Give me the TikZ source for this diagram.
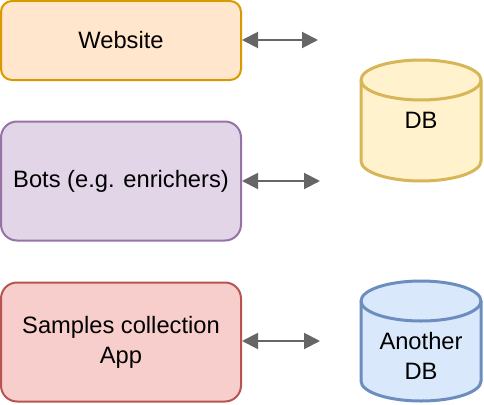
\documentclass[tikz,border=0pt]{standalone}
\usepackage{fontspec}
\setmainfont{Liberation Sans}
\usetikzlibrary{arrows.meta}
\definecolor{webfill}{HTML}{FFE6CC}\definecolor{webdraw}{HTML}{D79B00}
\definecolor{botfill}{HTML}{E1D5E7}\definecolor{botdraw}{HTML}{9673A6}
\definecolor{appfill}{HTML}{F8CECC}\definecolor{appdraw}{HTML}{B85450}
\definecolor{dbfill}{HTML}{FFF2CC}\definecolor{dbdraw}{HTML}{D6B656}
\definecolor{adbfill}{HTML}{DAE8FC}\definecolor{adbdraw}{HTML}{6C8EBF}
\definecolor{arrowgray}{HTML}{666666}
\tikzset{
  lbl/.style={font=\fontsize{23.7}{30}\selectfont, align=center, inner sep=0pt},
  appbox/.style={draw, line width=2pt, inner sep=0pt, minimum width=240pt, lbl},
  cyl/.style={line width=3pt},
  conn/.style={draw=arrowgray, line width=2pt, {Triangle[length=16pt,width=16pt]}-{Triangle[length=16pt,width=16pt]}}
}
\begin{document}
\begin{tikzpicture}[x=1pt,y=-1pt]
\useasboundingbox (0,0) rectangle (484,404);
% boxes
\node[appbox, fill=webfill, draw=webdraw, minimum height=79pt, rounded corners=11pt] (web) at (121,40.5) {Website};
\node[appbox, fill=botfill, draw=botdraw, minimum height=119pt, rounded corners=16pt] (bots) at (121,181) {Bots (e.g. enrichers)};
\node[appbox, fill=appfill, draw=appdraw, minimum height=119pt, rounded corners=16pt] (app) at (121,342) {Samples collection\\App};
% cylinders
\draw[cyl, fill=dbfill, draw=dbdraw] (361,80) -- (361,161) arc[start angle=180, end angle=360, x radius=60pt, y radius=20pt] -- (481,80) arc[start angle=0, end angle=180, x radius=60pt, y radius=20pt] -- cycle;
\draw[cyl, draw=dbdraw] (361,80) arc[start angle=180, end angle=360, x radius=60pt, y radius=20pt];
\node[lbl] (db) at (421,120) {DB};
\draw[cyl, fill=adbfill, draw=adbdraw] (361,301) -- (361,381) arc[start angle=180, end angle=360, x radius=60pt, y radius=20pt] -- (481,301) arc[start angle=0, end angle=180, x radius=60pt, y radius=20pt] -- cycle;
\draw[cyl, draw=adbdraw] (361,301) arc[start angle=180, end angle=360, x radius=60pt, y radius=20pt];
\node[lbl] (adb) at (421,356) {Another\\DB};
% connectors with free ends
\coordinate (webend) at (318,40);
\coordinate (botsend) at (320,181);
\coordinate (append) at (320,341);
\draw[conn] (web.east |- webend) -- (webend);
\draw[conn] (bots.east |- botsend) -- (botsend);
\draw[conn] (app.east |- append) -- (append);
\end{tikzpicture}
\end{document}
